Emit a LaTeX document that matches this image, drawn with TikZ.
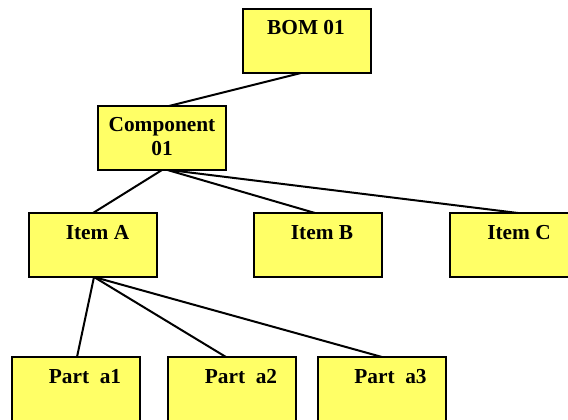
\documentclass[tikz,border=0pt]{standalone}
\usepackage{fontspec}
\setmainfont{Liberation Serif}
\usetikzlibrary{calc}
\definecolor{boxyellow}{HTML}{FFFF66}
\begin{document}
\begin{tikzpicture}[x=0.75pt,y=-0.75pt,
  bbox/.style={draw=black,line width=1.5pt,fill=boxyellow,minimum width=96pt,minimum height=48pt,inner sep=0pt,outer sep=0pt},
  lbl/.style={font=\fontsize{16}{18}\selectfont\bfseries,anchor=base,inner sep=0pt},
  conn/.style={draw=black,line width=1.5pt}]
\clip (0,0) rectangle (568,419);
\fill[white] (0,0) rectangle (568,419);
% boxes
\node[bbox] (bom) at (306.5,41) {};
\node[bbox] (comp) at (161.5,138) {};
\node[bbox] (ia) at (92.5,245) {};
\node[bbox] (ib) at (317.5,245) {};
\node[bbox] (ic) at (514,245) {};
\node[bbox] (pa1) at (76,389) {};
\node[bbox] (pa2) at (231.5,389) {};
\node[bbox] (pa3) at (381.5,389) {};
% labels
\node[lbl] (bomt) at (306,34) {BOM 01};
\node[lbl] (compt1) at (162,131) {Component};
\node[lbl] (compt2) at (162,155) {01};
\node[lbl] (iat) at (97.5,239) {Item A};
\node[lbl] (ibt) at (322,239) {Item B};
\node[lbl] (ict) at (519,239) {Item C};
\node[lbl] (pa1t) at (85,383) {Part\ \ a1};
\node[lbl] (pa2t) at (241,383) {Part\ \ a2};
\node[lbl] (pa3t) at (390.5,383) {Part\ \ a3};
% connectors
\draw[conn] ($(bom.south)+(-5.5,0)$) -- ($(comp.north)+(7.5,0)$);
\draw[conn] ($(comp.south)+(0.5,0)$) -- ($(ia.north)+(0.5,0)$);
\draw[conn] ($(comp.south)+(6,0)$) -- ($(ib.north)+(-2.5,0)$);
\draw[conn] ($(comp.south)+(8,0)$) -- ($(ic.north)+(4,0)$);
\draw[conn] ($(ia.south)+(1.5,0)$) -- ($(pa1.north)+(1,0)$);
\draw[conn] ($(ia.south)+(1.5,0)$) -- ($(pa2.north)+(-5.5,0)$);
\draw[conn] ($(ia.south)+(1.5,0)$) -- ($(pa3.north)+(0.5,0)$);
\end{tikzpicture}
\end{document}
